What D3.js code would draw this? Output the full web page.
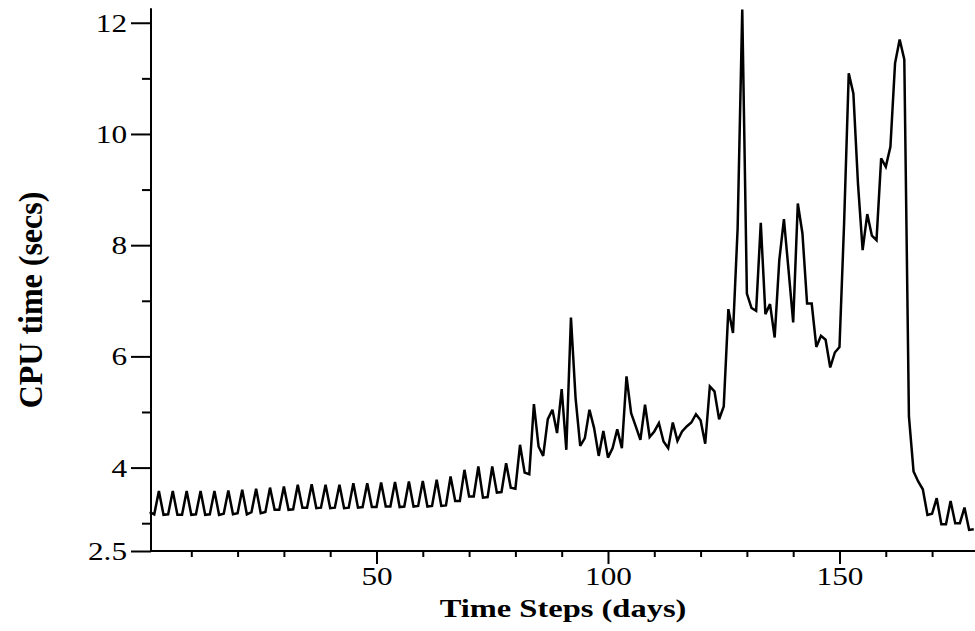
<!DOCTYPE html>
<html>
<head>
<meta charset="utf-8">
<script src="https://cdn.jsdelivr.net/npm/d3@7/dist/d3.min.js"></script>
<style>
  html, body { margin: 0; padding: 0; background: #fff; }
  svg { display: block; }
  text { font-family: "Liberation Serif", "Times New Roman", serif; fill: #000; }
</style>
</head>
<body>
<svg id="chart" width="975" height="631"></svg>
<script>
// ---- data ----
const cpuTime = [
  3.20, 3.16, 3.58, 3.15, 3.16, 3.58, 3.15, 3.15, 3.58, 3.15,
  3.16, 3.58, 3.15, 3.16, 3.58, 3.15, 3.17, 3.59, 3.16, 3.18,
  3.60, 3.16, 3.20, 3.62, 3.18, 3.20, 3.64, 3.24, 3.24, 3.66,
  3.24, 3.25, 3.69, 3.28, 3.28, 3.70, 3.27, 3.28, 3.69, 3.27,
  3.28, 3.69, 3.27, 3.28, 3.72, 3.28, 3.29, 3.72, 3.29, 3.29,
  3.73, 3.30, 3.30, 3.74, 3.29, 3.30, 3.75, 3.30, 3.31, 3.76,
  3.30, 3.31, 3.78, 3.31, 3.32, 3.84, 3.40, 3.40, 3.96, 3.48,
  3.48, 4.02, 3.46, 3.47, 4.02, 3.55, 3.56, 4.08, 3.64, 3.62,
  4.41, 3.91, 3.88, 5.14, 4.38, 4.21, 4.87, 5.04, 4.62, 5.41,
  4.32, 6.70, 5.25, 4.39, 4.53, 5.04, 4.71, 4.21, 4.66, 4.18,
  4.35, 4.69, 4.35, 5.64, 4.98, 4.74, 4.50, 5.13, 4.55, 4.65,
  4.80, 4.47, 4.35, 4.81, 4.48, 4.65, 4.74, 4.81, 4.96, 4.85,
  4.43, 5.46, 5.37, 4.87, 5.10, 6.85, 6.42, 8.30, 12.24, 7.13,
  6.87, 6.82, 8.40, 6.76, 6.94, 6.34, 7.73, 8.47, 7.55, 6.61,
  8.75, 8.21, 6.95, 6.95, 6.17, 6.37, 6.30, 5.80, 6.07, 6.17,
  8.40, 11.09, 10.73, 9.10, 7.91, 8.56, 8.17, 8.09, 9.56, 9.41,
  9.77, 11.27, 11.70, 11.34, 4.92, 3.93, 3.75, 3.61, 3.15, 3.17,
  3.45, 2.98, 2.98, 3.40, 3.00, 3.00, 3.28, 2.88, 2.89
];
const days = cpuTime.map((v, i) => i + 1);
const xMajorTicks = [50, 100, 150];
const xMinorTicks = [10, 20, 30, 40, 60, 70, 80, 90, 110, 120, 130, 140, 160, 170];
const yMajorTicks = [2.5, 4, 6, 8, 10, 12];
const yMinorTicks = [3, 5, 7, 9, 11];
const xTitle = "Time Steps (days)";
const yTitle = "CPU time (secs)";

(function () {
  const svg = d3.select("#chart");
  const mLeft = 151, mRight = 975, mTop = 8.3, mBottom = 551;
  const x = d3.scaleLinear().domain([1.296, 179.27]).range([mLeft, mRight]);
  const y = d3.scaleLinear().domain([2.5, 12.26]).range([mBottom, mTop]);
  const stretch = 1.25;

  const line = d3.line().x((d, i) => x(days[i])).y(d => y(d));
  svg.append("path")
    .datum(cpuTime)
    .attr("d", line)
    .attr("fill", "none")
    .attr("stroke", "#000")
    .attr("stroke-width", 2.5)
    .attr("stroke-linejoin", "miter")
    .attr("stroke-miterlimit", 3);

  const gx = svg.append("g").attr("transform", `translate(0,${mBottom})`);
  gx.call(d3.axisBottom(x).tickValues(xMajorTicks).tickSize(13).tickFormat(d3.format("d")))
    .call(g => g.select(".domain").remove());
  gx.selectAll(".tick line").attr("stroke", "#000").attr("stroke-width", 2);
  gx.selectAll(".tick text")
    .attr("y", 0).attr("dy", null)
    .attr("transform", `translate(0,34) scale(${stretch},1)`)
    .attr("font-size", 25)
    .attr("font-family", "Liberation Serif")
    .attr("fill", "#000");
  const gxm = svg.append("g").attr("transform", `translate(0,${mBottom})`);
  gxm.call(d3.axisBottom(x).tickValues(xMinorTicks).tickSize(6).tickFormat(""))
    .call(g => g.select(".domain").remove());
  gxm.selectAll(".tick line").attr("stroke", "#000").attr("stroke-width", 2);

  const gy = svg.append("g").attr("transform", `translate(${mLeft},0)`);
  gy.call(d3.axisLeft(y).tickValues(yMajorTicks).tickSize(20).tickFormat(d => d === 2.5 ? "2.5" : d3.format("d")(d)))
    .call(g => g.select(".domain").remove());
  gy.selectAll(".tick line").attr("stroke", "#000").attr("stroke-width", 2);
  gy.selectAll(".tick text")
    .attr("x", 0).attr("dy", "0.34em")
    .attr("transform", `translate(-24,0) scale(${stretch},1)`)
    .attr("font-size", 25)
    .attr("font-family", "Liberation Serif")
    .attr("fill", "#000");
  const gym = svg.append("g").attr("transform", `translate(${mLeft},0)`);
  gym.call(d3.axisLeft(y).tickValues(yMinorTicks).tickSize(9).tickFormat(""))
    .call(g => g.select(".domain").remove());
  gym.selectAll(".tick line").attr("stroke", "#000").attr("stroke-width", 2);

  svg.append("line").attr("x1", mLeft).attr("x2", mLeft).attr("y1", mTop).attr("y2", mBottom)
    .attr("stroke", "#000").attr("stroke-width", 2);
  svg.append("line").attr("x1", mLeft).attr("x2", mRight).attr("y1", mBottom).attr("y2", mBottom)
    .attr("stroke", "#000").attr("stroke-width", 2);

  svg.append("text")
    .attr("transform", `translate(${(mLeft + mRight) / 2},617) scale(${stretch},1)`)
    .attr("text-anchor", "middle")
    .attr("font-size", 26)
    .attr("font-weight", "bold")
    .text(xTitle);
  svg.append("text")
    .attr("transform", `translate(42,300) rotate(-90) scale(1,1.05)`)
    .attr("text-anchor", "middle")
    .attr("font-size", 32)
    .attr("font-weight", "bold")
    .text(yTitle);
})();
</script>
</body>
</html>
